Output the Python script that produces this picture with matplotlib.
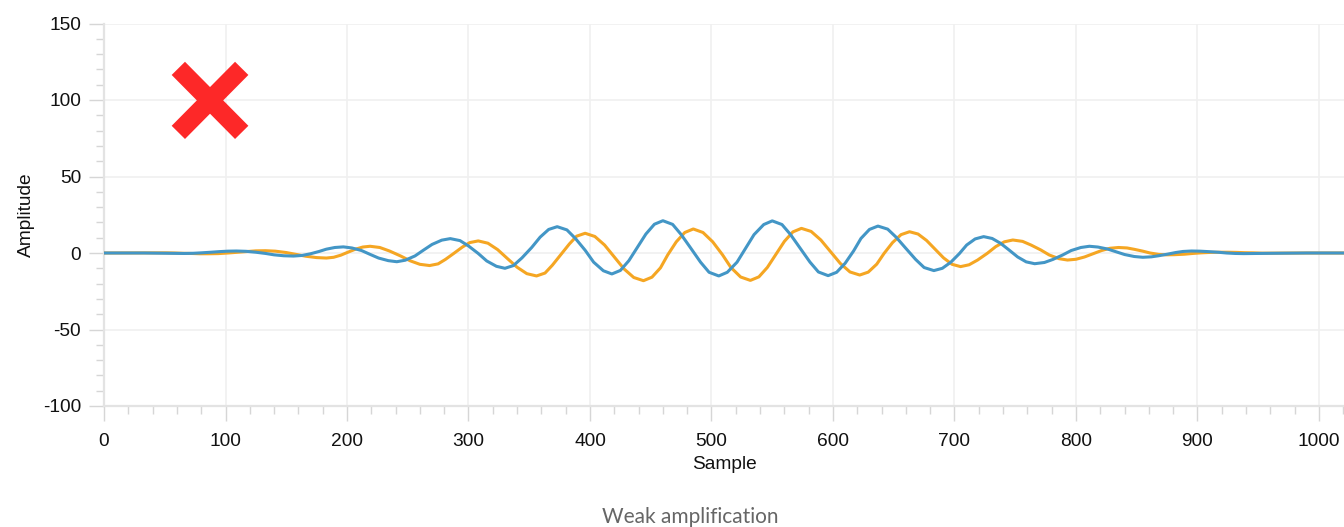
import matplotlib
matplotlib.use("Agg")
import matplotlib.pyplot as plt
from matplotlib.ticker import MultipleLocator

plt.rcParams["axes.unicode_minus"] = False

# ---- data ----
blue_x = [0, 33, 66, 73, 80, 88, 95, 102,
          109, 117, 125, 133, 140, 148,
          156, 163, 170, 177, 183, 190,
          197, 204, 212, 219, 226, 234,
          241, 248, 256, 263, 270, 278,
          285, 293, 300, 308, 315, 323,
          330, 337, 344, 352, 359, 366,
          373, 381, 388, 396, 403, 411,
          418, 425, 432, 439, 446, 453,
          460, 468, 475, 483, 491, 498,
          506, 513, 521, 528, 535, 543,
          550, 558, 565, 573, 581, 588,
          596, 603, 610, 617, 623, 630,
          637, 645, 652, 660, 668, 675,
          683, 690, 697, 704, 710, 717,
          724, 731, 738, 745, 752, 759,
          766, 774, 781, 789, 796, 804,
          811, 818, 826, 833, 840, 848,
          855, 862, 868, 875, 882, 888,
          895, 902, 909, 917, 924, 931,
          938, 960, 990, 1023]
blue_y = [0.0, 0.0, -0.3, -0.2, 0.1, 0.5, 0.9, 1.2,
          1.3, 1.1, 0.5, -0.3, -1.2, -1.8,
          -2.0, -1.6, -0.5, 1.0, 2.5, 3.6,
          4.0, 3.3, 1.6, -0.9, -3.3, -5.0,
          -5.7, -4.7, -1.9, 1.9, 5.6, 8.4,
          9.4, 8.1, 4.6, -0.3, -5.2, -8.7,
          -10.0, -8.2, -3.2, 3.6, 10.4, 15.4,
          17.2, 15.1, 9.5, 1.8, -6.0, -11.6,
          -13.7, -11.4, -5.0, 3.7, 12.4, 18.8,
          21.1, 18.7, 12.1, 3.1, -6.0, -12.6,
          -15.0, -12.6, -6.0, 3.0, 12.0, 18.6,
          21.0, 18.6, 12.1, 3.1, -5.9, -12.4,
          -14.8, -12.6, -6.7, 1.4, 9.5, 15.4,
          17.6, 15.6, 10.3, 3.0, -4.2, -9.5,
          -11.5, -10.0, -6.0, -0.4, 5.2, 9.2,
          10.7, 9.5, 6.3, 1.9, -2.6, -5.8,
          -7.0, -6.2, -4.2, -1.3, 1.6, 3.6,
          4.4, 3.9, 2.6, 0.8, -1.0, -2.3,
          -2.8, -2.5, -1.8, -0.8, 0.3, 1.0,
          1.3, 1.2, 0.9, 0.5, 0.0, -0.3,
          -0.4, -0.2, 0.0, 0.0]

orange_x = [0, 44, 51, 58, 65, 72, 79,
            86, 94, 102, 110, 117, 125,
            133, 141, 150, 158, 166, 175,
            183, 189, 195, 201, 207, 213,
            219, 227, 235, 244, 252, 260,
            268, 275, 281, 288, 295, 301,
            308, 316, 324, 332, 340, 348,
            356, 363, 369, 376, 383, 389,
            396, 404, 412, 420, 428, 436,
            444, 451, 458, 464, 471, 478,
            485, 493, 501, 509, 516, 524,
            532, 539, 546, 553, 560, 567,
            574, 582, 590, 598, 606, 614,
            622, 629, 636, 642, 649, 656,
            663, 670, 677, 684, 691, 698,
            705, 712, 719, 727, 734, 741,
            748, 756, 763, 771, 778, 786,
            793, 800, 807, 814, 821, 828,
            835, 842, 848, 855, 861, 868,
            874, 881, 889, 896, 903, 911,
            918, 925, 932, 939, 946, 953,
            960, 990, 1023]
orange_y = [0.0, 0.1, 0.1, 0.0, -0.2, -0.3, -0.5,
            -0.5, -0.4, 0.0, 0.5, 1.0, 1.4,
            1.5, 1.2, 0.3, -0.9, -2.1, -3.0,
            -3.3, -2.8, -1.4, 0.6, 2.5, 3.9,
            4.4, 3.6, 1.3, -1.9, -5.1, -7.4,
            -8.2, -7.1, -4.2, -0.2, 3.9, 6.8,
            7.9, 6.4, 2.2, -3.6, -9.3, -13.5,
            -15.0, -13.1, -8.0, -1.1, 5.9, 11.0,
            12.9, 10.8, 5.2, -2.6, -10.4, -16.0,
            -18.1, -15.8, -9.7, -1.2, 7.3, 13.4,
            15.7, 13.4, 7.3, -1.1, -9.5, -15.7,
            -17.9, -15.6, -9.4, -0.9, 7.6, 13.8,
            16.1, 14.1, 8.5, 0.9, -6.8, -12.4,
            -14.4, -12.5, -7.3, -0.3, 6.8, 12.0,
            13.9, 12.4, 8.2, 2.5, -3.2, -7.4,
            -8.9, -7.7, -4.6, -0.2, 4.2, 7.3,
            8.5, 7.6, 5.2, 2.0, -1.3, -3.7,
            -4.6, -4.1, -2.6, -0.5, 1.6, 3.1,
            3.6, 3.3, 2.4, 1.2, 0.0, -0.9,
            -1.2, -1.1, -0.8, -0.3, 0.1, 0.4,
            0.5, 0.5, 0.4, 0.2, 0.1, -0.1,
            -0.1, 0.0, 0.0]

x_ticks = [0, 100, 200, 300, 400, 500, 600, 700, 800, 900, 1000]
y_ticks = [-100, -50, 0, 50, 100, 150]
x_label = "Sample"
y_label = "Amplitude"
title = "Weak amplification"

# ---- figure ----
W, H = 1344, 527
fig = plt.figure(figsize=(W / 100, H / 100), dpi=100)
ax_l, ax_r, ax_t, ax_b = 104, 1344, 23.5, 406
ax = fig.add_axes([ax_l / W, 1 - ax_b / H, (ax_r - ax_l) / W, (ax_b - ax_t) / H])

ax.plot(orange_x, orange_y, color="#f5a623", lw=2.2, zorder=3,
        solid_joinstyle="round")
ax.plot(blue_x, blue_y, color="#4396c6", lw=2.2, zorder=4,
        solid_joinstyle="round")

ax.set_xlim(0, (ax_r - ax_l) / 1.215)
ax.set_ylim(-100, 150)
ax.set_xticks(x_ticks)
ax.set_yticks(y_ticks)
ax.xaxis.set_minor_locator(MultipleLocator(20))
ax.yaxis.set_minor_locator(MultipleLocator(10))

fam = ["Liberation Sans", "DejaVu Sans"]
for lab in ax.get_xticklabels() + ax.get_yticklabels():
    lab.set_fontfamily(fam)
    lab.set_fontsize(13.8)
    lab.set_color("#111111")

ax.tick_params(which="major", length=10.5, width=1, color="#d6d6d6", pad=6)
ax.tick_params(which="minor", length=5.5, width=1, color="#d6d6d6")
ax.tick_params(axis="x", which="major", pad=9)

ax.grid(True, which="major", color="#f0f0f0", lw=1.2, zorder=0)
ax.set_axisbelow(True)
for s in ["top", "right"]:
    ax.spines[s].set_visible(False)
for s in ["left", "bottom"]:
    ax.spines[s].set_color("#e3e3e3")
    ax.spines[s].set_linewidth(1.6)

ax.set_xlabel(x_label, family=fam, fontsize=13.8, color="#111111", labelpad=4)
ax.set_ylabel(y_label, family=fam, fontsize=13.8, color="#111111", labelpad=6)

# red cross marker (fixed icon position in axes fraction)
cx, cy = 0.0855, 0.799
hx, hy = 0.02556, 0.0837
ax.plot([cx - hx, cx + hx], [cy + hy, cy - hy], transform=ax.transAxes,
        color="#fd2828", lw=13.5, solid_capstyle="butt", zorder=5)
ax.plot([cx - hx, cx + hx], [cy - hy, cy + hy], transform=ax.transAxes,
        color="#fd2828", lw=13.5, solid_capstyle="butt", zorder=5)

fig.text(690 / W, 1 - 517 / H, title, ha="center", va="center",
         family=["Lato", "DejaVu Sans"], fontsize=15, color="#666666")

fig.savefig("out.png", dpi=100)
